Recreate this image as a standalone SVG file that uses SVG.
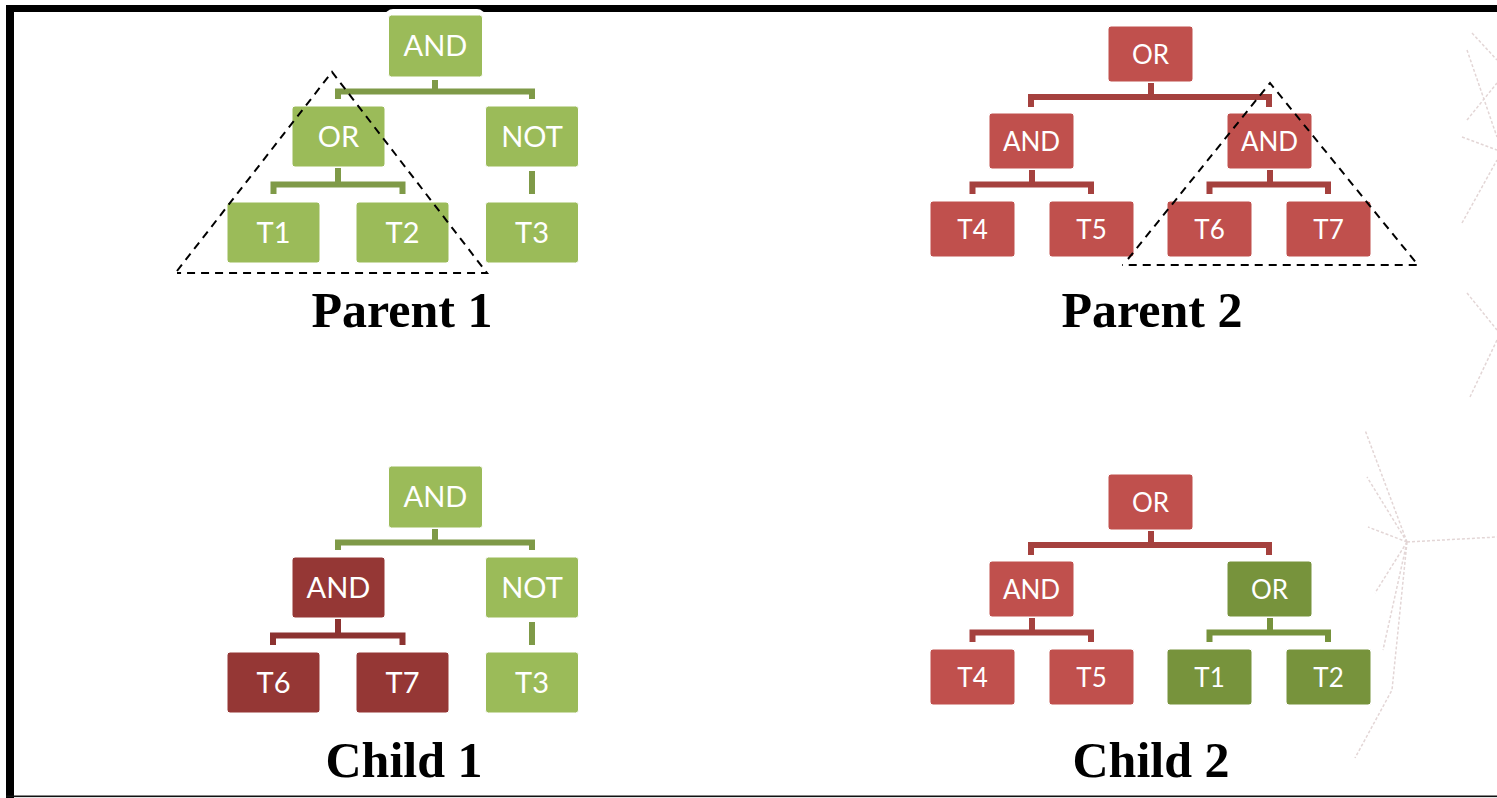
<svg xmlns="http://www.w3.org/2000/svg" width="1497" height="798" viewBox="0 0 1497 798">
<style>
.g{fill:#9BBB59}
.r{fill:#C0504D}
.dr{fill:#953735}
.dg{fill:#77933C}
.bx{stroke:#fff;stroke-width:1}
.t{font-family:Lato,"Open Sans",sans-serif;fill:#fff;text-anchor:middle}
.tl{font-size:29px}
.ts{font-size:26px}
.lbl{font-family:"Liberation Serif","Times New Roman",serif;font-weight:bold;font-size:50px;fill:#000;text-anchor:middle}
.cg{fill:none;stroke:#7F9A48;stroke-width:6}
.cr{fill:none;stroke:#A5413E;stroke-width:6}
.cdr{fill:none;stroke:#8C3331;stroke-width:6}
.cdg{fill:none;stroke:#76923C;stroke-width:6}
.tri{fill:none;stroke:#000;stroke-width:2;stroke-dasharray:8 6}
.faint{fill:none;stroke:#E3D6D6;stroke-width:1.5;stroke-dasharray:3 2}
</style>
<rect width="1497" height="798" fill="#fff"/>
<!-- frame -->
<g id="frame">
<rect x="6" y="5" width="1491" height="7" fill="#000"/>
<rect x="6" y="5" width="8" height="793" fill="#000"/>
<rect x="6" y="795.5" width="1491" height="1.6" fill="#111"/>
</g>
<!-- faint background sketch -->
<g id="sketch">
<path class="faint" d="M1407,542 L1365,430 M1407,542 L1367,477 M1407,542 L1368,527 M1407,542 L1497,537 M1407,542 L1375,593 M1407,542 L1383,650 M1407,542 L1392,690 L1355,758"/>
<path class="faint" d="M1472,33 L1497,60 M1467,50 L1497,137 M1467,120 L1497,83 M1462,137 L1497,150 M1462,223 L1497,160 M1467,293 L1497,330 M1470,397 L1497,340"/>
</g>
<!-- connectors -->
<g id="connectors">
<!-- Parent 1 -->
<path class="cg" d="M435,78 V91.5 M338,99 V91.5 H532 V99"/>
<path class="cg" d="M338,168 V184.5 M273.5,194 V184.5 H402.5 V194"/>
<path class="cg" d="M532,171 V194"/>
<!-- Parent 2 -->
<path class="cr" d="M1151,83 V97 M1031,107 V97 H1269 V107"/>
<path class="cr" d="M1032,170 V184.5 M972.5,194 V184.5 H1091 V194"/>
<path class="cr" d="M1270,170 V184.5 M1209.5,194 V184.5 H1328 V194"/>
<!-- Child 1 -->
<path class="cg" d="M435,529 V542.5 M338,550 V542.5 H532 V550"/>
<path class="cdr" d="M338,619 V635.5 M273,645 V635.5 H402.5 V645"/>
<path class="cg" d="M532,622 V645"/>
<!-- Child 2 -->
<path class="cr" d="M1151,531 V545 M1031,555 V545 H1269 V555"/>
<path class="cr" d="M1032,618 V632.5 M972.5,642 V632.5 H1091 V642"/>
<path class="cdg" d="M1270,618 V632.5 M1209.5,642 V632.5 H1328 V642"/>
</g>
<!-- Parent 1 -->
<g id="p1-and"><rect x="385" y="9" width="100" height="71" rx="8" fill="#fff"/><rect class="g bx" x="388.5" y="15" width="94" height="62" rx="3"/><text class="t tl" x="435.5" y="56">AND</text></g>
<g id="p1-or"><rect class="g bx" x="292" y="106" width="93" height="61" rx="3"/><text class="t tl" x="338.5" y="147">OR</text></g>
<g id="p1-not"><rect class="g bx" x="485.5" y="106" width="93" height="61" rx="3"/><text class="t tl" x="532" y="147">NOT</text></g>
<g id="p1-t1"><rect class="g bx" x="227" y="202" width="93" height="61" rx="3"/><text class="t tl" x="273.5" y="243">T1</text></g>
<g id="p1-t2"><rect class="g bx" x="356" y="202" width="93" height="61" rx="3"/><text class="t tl" x="402.5" y="243">T2</text></g>
<g id="p1-t3"><rect class="g bx" x="485.5" y="202" width="93" height="61" rx="3"/><text class="t tl" x="532" y="243">T3</text></g>
<path id="p1-subtree" class="tri" d="M177,271 L332,72 L487,273 L177,273"/>
<text id="p1-label" class="lbl" x="402" y="327">Parent 1</text>
<!-- Parent 2 -->
<g id="p2-or"><rect class="r bx" x="1108" y="26" width="85" height="56" rx="3"/><text class="t ts" x="1150.5" y="64">OR</text></g>
<g id="p2-and1"><rect class="r bx" x="989" y="113" width="85" height="56" rx="3"/><text class="t ts" x="1031.5" y="151">AND</text></g>
<g id="p2-and2"><rect class="r bx" x="1227" y="113" width="85" height="56" rx="3"/><text class="t ts" x="1269.5" y="151">AND</text></g>
<g id="p2-t4"><rect class="r bx" x="930" y="201" width="85" height="56" rx="3"/><text class="t ts" x="972.5" y="239">T4</text></g>
<g id="p2-t5"><rect class="r bx" x="1049" y="201" width="85" height="56" rx="3"/><text class="t ts" x="1091.5" y="239">T5</text></g>
<g id="p2-t6"><rect class="r bx" x="1167" y="201" width="85" height="56" rx="3"/><text class="t ts" x="1209.5" y="239">T6</text></g>
<g id="p2-t7"><rect class="r bx" x="1286" y="201" width="85" height="56" rx="3"/><text class="t ts" x="1328.5" y="239">T7</text></g>
<path id="p2-subtree" class="tri" d="M1128,259 L1270,83 L1418,265 L1122,265"/>
<text id="p2-label" class="lbl" x="1152" y="327">Parent 2</text>
<!-- Child 1 -->
<g id="c1-and"><rect class="g bx" x="388.5" y="466" width="94" height="62" rx="3"/><text class="t tl" x="435.5" y="507">AND</text></g>
<g id="c1-and2"><rect class="dr bx" x="292" y="557" width="93" height="61" rx="3"/><text class="t tl" x="338.5" y="598">AND</text></g>
<g id="c1-not"><rect class="g bx" x="485.5" y="557" width="93" height="61" rx="3"/><text class="t tl" x="532" y="598">NOT</text></g>
<g id="c1-t6"><rect class="dr bx" x="227" y="652" width="93" height="61" rx="3"/><text class="t tl" x="273.5" y="693">T6</text></g>
<g id="c1-t7"><rect class="dr bx" x="356" y="652" width="93" height="61" rx="3"/><text class="t tl" x="402.5" y="693">T7</text></g>
<g id="c1-t3"><rect class="g bx" x="485.5" y="652" width="93" height="61" rx="3"/><text class="t tl" x="532" y="693">T3</text></g>
<text id="c1-label" class="lbl" x="404" y="777">Child 1</text>
<!-- Child 2 -->
<g id="c2-or"><rect class="r bx" x="1108" y="474" width="85" height="56" rx="3"/><text class="t ts" x="1150.5" y="512">OR</text></g>
<g id="c2-and"><rect class="r bx" x="989" y="561" width="85" height="56" rx="3"/><text class="t ts" x="1031.5" y="599">AND</text></g>
<g id="c2-or2"><rect class="dg bx" x="1227" y="561" width="85" height="56" rx="3"/><text class="t ts" x="1269.5" y="599">OR</text></g>
<g id="c2-t4"><rect class="r bx" x="930" y="649" width="85" height="56" rx="3"/><text class="t ts" x="972.5" y="687">T4</text></g>
<g id="c2-t5"><rect class="r bx" x="1049" y="649" width="85" height="56" rx="3"/><text class="t ts" x="1091.5" y="687">T5</text></g>
<g id="c2-t1"><rect class="dg bx" x="1167" y="649" width="85" height="56" rx="3"/><text class="t ts" x="1209.5" y="687">T1</text></g>
<g id="c2-t2"><rect class="dg bx" x="1286" y="649" width="85" height="56" rx="3"/><text class="t ts" x="1328.5" y="687">T2</text></g>
<text id="c2-label" class="lbl" x="1151" y="777">Child 2</text>
</svg>
